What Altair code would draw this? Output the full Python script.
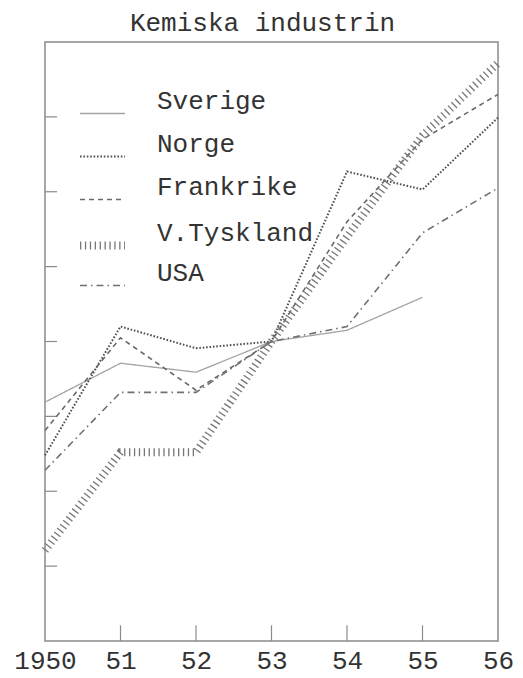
import altair as alt
import pandas as pd

years = [1950, 1951, 1952, 1953, 1954, 1955, 1956]
countries = ["Sverige", "Norge", "Frankrike", "V.Tyskland", "USA"]

sverige = [91.9, 97.1, 95.9, 100.0, 101.5, 105.9, None]
norge = [84.8, 102.0, 99.1, 100.0, 122.7, 120.3, 129.9]
frankrike = [88.1, 100.5, 93.5, 100.0, 116.0, 127.0, 133.0]
vtyskland = [72.1, 85.2, 85.2, 100.0, 114.0, 127.5, 137.2]
usa = [82.8, 93.2, 93.2, 100.0, 102.0, 114.5, 120.5]

tick_years = [1951, 1952, 1953, 1954, 1955]
tick_values = [70, 80, 90, 100, 110, 120, 130]

series = [sverige, norge, frankrike, vtyskland, usa]
rows = []
for name, vals in zip(countries, series):
    for yr, v in zip(years, vals):
        if v is not None:
            rows.append({"year": yr, "value": v, "country": name})
df = pd.DataFrame(rows)

FONT = "Liberation Mono"
TXT = "#333333"

xscale = alt.Scale(domain=[1950, 1956], nice=False, zero=False)
yscale = alt.Scale(domain=[60, 140], nice=False, zero=False)

xaxis = alt.Axis(values=years, ticks=False, domain=False, grid=False, title=None,
                 labelExpr="datum.value == 1950 ? '1950' : substring(toString(datum.value), 2, 4)",
                 labelFont=FONT, labelFontSize=26, labelColor=TXT,
                 labelPadding=6, labelFlush=False)

legend = alt.Legend(title=None, orient="none", legendX=31, legendY=48,
                    symbolType="stroke", symbolSize=2025,
                    labelFont=FONT, labelFontSize=26, labelColor=TXT,
                    labelOffset=28, rowPadding=-12.5, gridAlign="all",
                    labelBaseline="bottom")

lines = alt.Chart(df).mark_line().encode(
    x=alt.X("year:Q", scale=xscale, axis=xaxis),
    y=alt.Y("value:Q", scale=yscale, axis=None),
    color=alt.Color("country:O",
                    scale=alt.Scale(type="ordinal", domain=countries,
                                    range=["#a3a3a3", "#4f4f4f", "#6a6a6a", "#767676", "#707070"]),
                    legend=legend),
    strokeDash=alt.StrokeDash("country:O",
                              scale=alt.Scale(type="ordinal", domain=countries,
                                              range=[[1, 0], [1.6, 1.8], [5, 4], [1.3, 3.6], [7, 4, 1.5, 4]]),
                              legend=legend),
    strokeWidth=alt.StrokeWidth("country:O",
                                scale=alt.Scale(type="ordinal", domain=countries,
                                                range=[1.3, 2.0, 1.6, 8, 1.6]),
                                legend=legend),
)

xt = pd.DataFrame({"year": tick_years, "lo": [60] * len(tick_years), "hi": [62.1] * len(tick_years)})
xticks = alt.Chart(xt).mark_rule(color="#8a8a8a", strokeWidth=1.2).encode(
    x=alt.X("year:Q", scale=xscale, axis=xaxis),
    y=alt.Y("lo:Q", scale=yscale, axis=None), y2="hi:Q")

yt = pd.DataFrame({"value": tick_values, "x0": [1950] * len(tick_values), "x1": [1950.16] * len(tick_values)})
yticks = alt.Chart(yt).mark_rule(color="#8a8a8a", strokeWidth=1.2).encode(
    y=alt.Y("value:Q", scale=yscale, axis=None),
    x=alt.X("x0:Q", scale=xscale, axis=xaxis), x2="x1:Q")

chart = alt.layer(xticks, yticks, lines).properties(
    width=453, height=599,
    title=alt.Title("Kemiska industrin", font=FONT, fontSize=26, fontWeight="normal",
                    color=TXT, anchor="middle", offset=6, dx=-9),
    autosize=alt.AutoSizeParams(type="none"),
    padding={"left": 37, "top": 34, "right": 17, "bottom": 40},
    background="white",
).configure_view(stroke="#8a8a8a", strokeWidth=1.5)

chart.save("out.html", embed_options={"renderer": "svg", "actions": False})
